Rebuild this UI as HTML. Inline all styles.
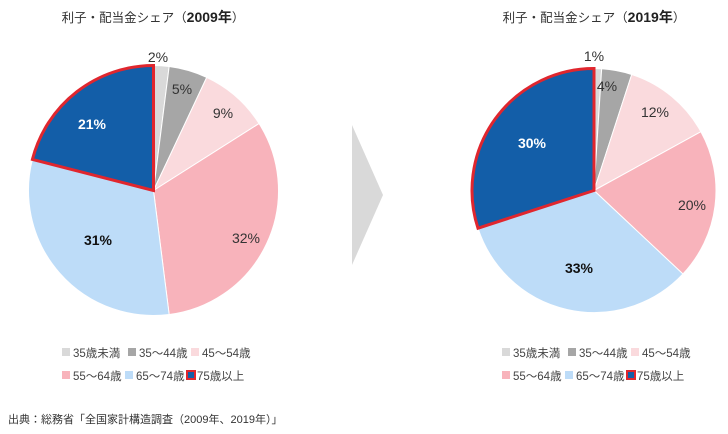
<!DOCTYPE html>
<html><head><meta charset="utf-8"><style>
body{margin:0;background:#fff;}
svg{display:block;font-family:"Liberation Sans","Noto Sans CJK JP",sans-serif;}
</style></head><body>
<svg id="s" width="728" height="434" viewBox="0 0 728 434">
<text x="153" y="22" text-anchor="middle" font-size="12.5" fill="#333">利子・配当金シェア（<tspan font-weight="bold" font-size="14" fill="#222">2009年</tspan>）</text>
<text x="594" y="22" text-anchor="middle" font-size="12.5" fill="#333">利子・配当金シェア（<tspan font-weight="bold" font-size="14" fill="#222">2019年</tspan>）</text>
<polygon points="352,125 383,195 352,265" fill="#d9d9d9"/>
<g id="p1"></g><g id="p2"></g>
<g font-size="14" fill="#333" text-anchor="middle">
<text x="158" y="62">2%</text><text x="182" y="94">5%</text><text x="223" y="118">9%</text>
<text x="246" y="243">32%</text><text x="98" y="245" font-weight="bold" fill="#111">31%</text>
<text x="92" y="129" font-weight="bold" fill="#fff">21%</text>
<text x="594" y="61">1%</text><text x="607" y="91">4%</text><text x="655" y="117">12%</text>
<text x="692" y="210">20%</text><text x="579" y="273" font-weight="bold" fill="#111">33%</text>
<text x="532" y="148" font-weight="bold" fill="#fff">30%</text>
</g>
<g id="lg" font-size="11.5" fill="#444"></g>
<text x="8" y="423" font-size="11" fill="#333">出典：総務省「全国家計構造調査（2009年、2019年）」</text>
</svg>
<script>
var C=["#d9d9d9","#a6a6a6","#fadadd","#f8b3bb","#bddcf8","#135ea8"];
function pie(id,cx,cy,r,v){var g=document.getElementById(id),a=0,h="",last="";
for(var i=0;i<v.length;i++){var a0=a,a1=a+v[i]/100*2*Math.PI;a=a1;
var x0=cx+r*Math.sin(a0),y0=cy-r*Math.cos(a0),x1=cx+r*Math.sin(a1),y1=cy-r*Math.cos(a1);
var d="M"+cx+","+cy+"L"+x0+","+y0+"A"+r+","+r+" 0 "+(a1-a0>Math.PI?1:0)+" 1 "+x1+","+y1+"Z";
if(i==5)last='<path d="'+d+'" fill="'+C[i]+'" stroke="#e0262e" stroke-width="3" stroke-linejoin="miter"/>';
else h+='<path d="'+d+'" fill="'+C[i]+'" stroke="#fff" stroke-width="1"/>';}
g.innerHTML=h+last;}
pie("p1",153.5,190.5,125,[2,5,9,32,31,21]);
pie("p2",594,190.5,122,[1,4,12,20,33,30]);
var L=["35歳未満","35〜44歳","45〜54歳","55〜64歳","65〜74歳","75歳以上"],h="";
[62,502].forEach(function(bx){
var pos=[[bx,357],[bx+66,357],[bx+129,357],[bx,380],[bx+63,380],[bx+124,380]];
for(var i=0;i<6;i++){var p=pos[i];
if(i==5)h+='<rect x="'+(p[0]+1)+'" y="'+(p[1]-9)+'" width="8" height="8" fill="#135ea8" stroke="#e0262e" stroke-width="2"/>';
else h+='<rect x="'+p[0]+'" y="'+(p[1]-9)+'" width="8" height="8" fill="'+C[i]+'"/>';
h+='<text x="'+(p[0]+11)+'" y="'+p[1]+'">'+L[i]+'</text>';}});
document.getElementById("lg").innerHTML=h;
</script>
</body></html>
